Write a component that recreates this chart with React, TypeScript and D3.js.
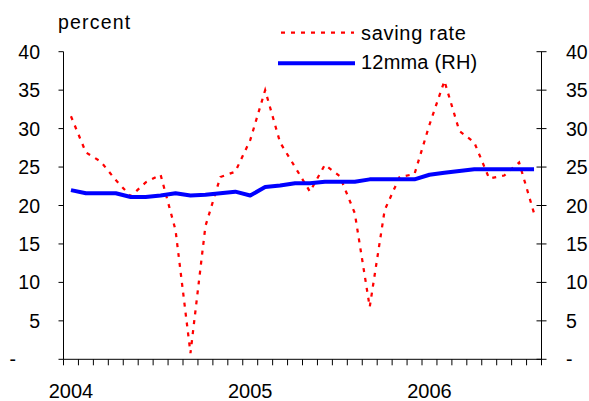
import React from "react";
import * as d3 from "d3";

const months = [
  "Jan-04","Feb-04","Mar-04","Apr-04","May-04","Jun-04","Jul-04","Aug-04","Sep-04","Oct-04","Nov-04","Dec-04",
  "Jan-05","Feb-05","Mar-05","Apr-05","May-05","Jun-05","Jul-05","Aug-05","Sep-05","Oct-05","Nov-05","Dec-05",
  "Jan-06","Feb-06","Mar-06","Apr-06","May-06","Jun-06","Jul-06","Aug-06",
];
const savingRate = [
  31.6, 26.9, 25.7, 23.3, 21.2, 23.0, 24.0, 16.8, 0.8, 17.3, 23.7, 24.4,
  28.5, 35.0, 28.2, 25.0, 21.8, 25.3, 23.8, 19.0, 6.8, 19.4, 23.7, 24.1,
  30.5, 36.2, 29.7, 28.2, 23.5, 23.9, 25.6, 19.0,
];
const ma12 = [
  22.0, 21.6, 21.6, 21.6, 21.1, 21.1, 21.3, 21.6, 21.3, 21.4, 21.6, 21.8,
  21.3, 22.4, 22.6, 22.9, 22.9, 23.1, 23.1, 23.1, 23.4, 23.4, 23.4, 23.4,
  24.0, 24.25, 24.5, 24.7, 24.7, 24.7, 24.7, 24.7,
];
const yTicks = [0, 5, 10, 15, 20, 25, 30, 35, 40];
const yearLabels = [
  { month: "Jan-04", label: "2004" },
  { month: "Jan-05", label: "2005" },
  { month: "Jan-06", label: "2006" },
];
const seriesNames = ["saving rate", "12mma (RH)"];

const W = 589, H = 401;
const left = 63.5, right = 541.5, top = 51.7, bottom = 359.3;
const FONT = "'Liberation Sans', Arial, sans-serif";

export default function App() {
  const x = d3.scaleBand<string>().domain(months).range([left, right]).padding(0);
  const cx = (m: string) => (x(m) as number) + x.bandwidth() / 2;
  const y = d3.scaleLinear().domain([0, 40]).range([bottom, top]);
  const line = d3
    .line<number>()
    .x((_, i) => cx(months[i]))
    .y((d) => y(d));
  const fmt = (v: number) => (v === 0 ? "-" : String(v));
  const boundaries = months.map((m) => x(m) as number).concat([right]);

  return (
    <svg width={W} height={H} style={{ position: "absolute", left: 0, top: 0 }} fontFamily={FONT}>
      <rect width={W} height={H} fill="#fff" />
      {/* axes */}
      <line x1={left} x2={left} y1={top} y2={bottom} stroke="#000" strokeWidth={1} />
      <line x1={right} x2={right} y1={top} y2={bottom} stroke="#000" strokeWidth={1} />
      <line x1={left} x2={right} y1={bottom} y2={bottom} stroke="#000" strokeWidth={1} />
      {yTicks.map((t) => (
        <g key={"l" + t}>
          <line x1={left - 5} x2={left} y1={y(t)} y2={y(t)} stroke="#000" />
          <line x1={right - 5} x2={right + 5} y1={y(t)} y2={y(t)} stroke="#000" />
          <text x={t === 0 ? 16 : 40} y={y(t) + 7} textAnchor="end" fontSize={19.5} fill="#000">
            {fmt(t)}
          </text>
          <text x={566} y={y(t) + 7} textAnchor="start" fontSize={19.5} fill="#000">
            {fmt(t)}
          </text>
        </g>
      ))}
      {boundaries.map((b, i) => (
        <line key={"b" + i} x1={b} x2={b} y1={bottom} y2={bottom + 6} stroke="#000" />
      ))}
      {yearLabels.map((yl) => (
        <text key={yl.label} x={cx(yl.month)} y={398} textAnchor="middle" fontSize={20} fill="#000">
          {yl.label}
        </text>
      ))}
      <text x={58} y={29} fontSize={19.5} letterSpacing={1.2} fill="#000">percent</text>
      {/* series */}
      <path d={line(savingRate) || ""} fill="none" stroke="#FF0000" strokeWidth={2.25} strokeDasharray="4,6" />
      <path d={line(ma12) || ""} fill="none" stroke="#0000FF" strokeWidth={4} strokeLinejoin="round" />
      {/* legend */}
      <line x1={281} x2={354} y1={32.5} y2={32.5} stroke="#FF0000" strokeWidth={2.25} strokeDasharray="4,6" />
      <text x={361} y={40} fontSize={20} letterSpacing={0.7} fill="#000">{seriesNames[0]}</text>
      <line x1={278} x2={355} y1={63.3} y2={63.3} stroke="#0000FF" strokeWidth={4} />
      <text x={361} y={68.5} fontSize={20} letterSpacing={0.2} fill="#000">{seriesNames[1]}</text>
    </svg>
  );
}
